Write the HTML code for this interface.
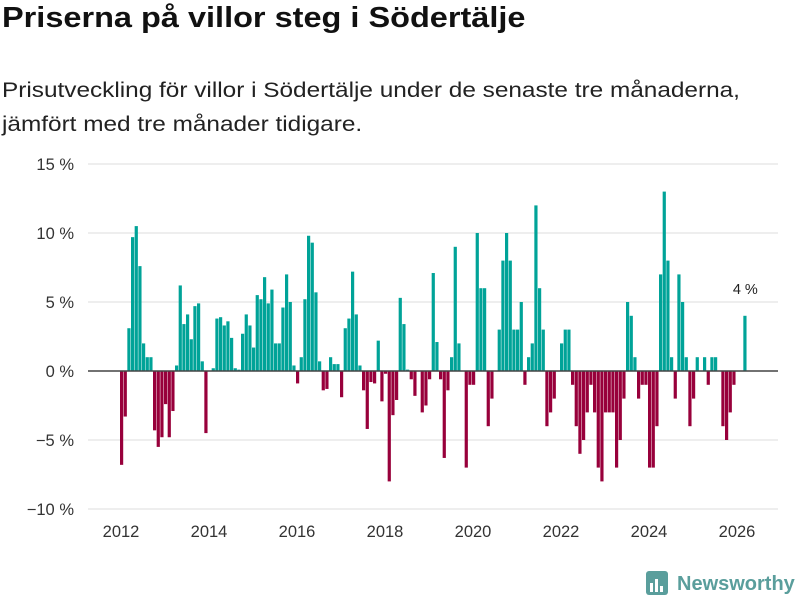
<!DOCTYPE html>
<html><head><meta charset="utf-8"><style>
body{margin:0;width:800px;height:600px;background:#fff;font-family:"Liberation Sans","DejaVu Sans",sans-serif;overflow:hidden;position:relative}
h1{position:absolute;left:2px;top:2px;margin:0;font-size:29px;font-weight:bold;color:#111;transform:scaleX(1.12);transform-origin:0 0;white-space:nowrap}
.sub{position:absolute;left:2px;top:74px;margin:0;font-size:21px;line-height:34px;color:#222;transform:scaleX(1.16);transform-origin:0 0;white-space:nowrap}
svg{position:absolute;left:0;top:0}
</style></head><body>
<h1>Priserna på villor steg i Södertälje</h1>
<p class="sub">Prisutveckling för villor i Södertälje under de senaste tre månaderna,<br>jämfört med tre månader tidigare.</p>
<svg id="chart" width="800" height="600"></svg>
<script>
const startYear = 2012;
const values = [-6.8,-3.3,3.1,9.7,10.5,7.6,2.0,1.0,1.0,-4.3,-5.5,-4.8,
-2.4,-4.8,-2.9,0.4,6.2,3.4,4.1,2.3,4.7,4.9,0.7,-4.5,
0,0.2,3.8,3.9,3.3,3.6,2.4,0.2,0.1,2.7,4.1,3.3,
1.7,5.5,5.2,6.8,4.9,5.9,2.0,2.0,4.6,7.0,5.0,0.4,
-0.9,1.0,5.2,9.8,9.3,5.7,0.7,-1.4,-1.3,1.0,0.5,0.5,
-1.9,3.1,3.8,7.2,4.1,0.4,-1.4,-4.2,-0.8,-0.9,2.2,-2.2,
-0.2,-8.0,-3.2,-2.1,5.3,3.4,0.1,-0.6,-1.8,0,-3.0,-2.5,
-0.6,7.1,2.1,-0.6,-6.3,-1.4,1.0,9.0,2.0,0,-7.0,-1.0,
-1.0,10.0,6.0,6.0,-4.0,-2.0,0,3.0,8.0,10.0,8.0,3.0,
3.0,5.0,-1.0,1.0,2.0,12.0,6.0,3.0,-4.0,-3.0,-2.0,0,
2.0,3.0,3.0,-1.0,-4.0,-6.0,-5.0,-3.0,-1.0,-3.0,-7.0,-8.0,
-3.0,-3.0,-3.0,-7.0,-5.0,-2.0,5.0,4.0,1.0,-2.0,-1.0,-1.0,
-7.0,-7.0,-4.0,7.0,13.0,8.0,1.0,-2.0,7.0,5.0,1.0,-4.0,
-2.0,1.0,0,1.0,-1.0,1.0,1.0,0,-4.0,-5.0,-3.0,-1.0,
0,0,4.0];
const yTicks = [15,10,5,0,-5,-10];
const xTicks = [2012,2014,2016,2018,2020,2022,2024,2026];
const lastLabel = "4 %";

const NS="http://www.w3.org/2000/svg";
const svg=document.getElementById('chart');
const xScale=t=>121+(t-2012)*44;
const yScale=v=>371-v*13.8;
function mk(tag,attrs,parent){const e=document.createElementNS(NS,tag);for(const k in attrs)e.setAttribute(k,attrs[k]);(parent||svg).appendChild(e);return e;}
yTicks.forEach(v=>{
  if(v!==0){const g=mk('line',{x1:88,x2:778,y1:yScale(v),y2:yScale(v),stroke:'#dedede','stroke-width':1});
  
  }
  const t=mk('text',{x:74,y:yScale(v)+6,'text-anchor':'end','font-size':16.5,fill:'#333'});
  t.textContent=(v<0?'−'+(-v):v)+' %';
  
  
});
xTicks.forEach(y=>{
  const t=mk('text',{x:xScale(y),y:537,'text-anchor':'middle','font-size':16.5,fill:'#333'});
  t.textContent=y;
  
  
});
values.forEach((v,i)=>{
  if(v===0)return;
  const t=startYear+i/12;
  const y0=yScale(0),y1=yScale(v);
  const r=mk('rect',{x:xScale(t)-1,y:Math.min(y0,y1),width:3.2,height:Math.abs(y1-y0),fill:v>0?'#00a398':'#98003b'});
  
  
});
const z=mk('line',{x1:88,x2:778,y1:yScale(0),y2:yScale(0),stroke:'#444','stroke-width':1.6});


const li=values.length-1;
const lt=mk('text',{x:xScale(startYear+li/12)+1,y:yScale(values[li])-22,'text-anchor':'middle','font-size':14.5,fill:'#222'});
lt.textContent=lastLabel;


</script>
<svg width="800" height="600" style="pointer-events:none">
<rect x="646" y="571" width="22" height="24" rx="3" fill="#5a9e9c"/>
<rect x="650" y="583" width="3" height="9" fill="#fff"/><rect x="655" y="579" width="3" height="13" fill="#fff"/><rect x="660" y="586" width="3" height="6" fill="#fff"/>
<text x="677" y="590" font-size="20" font-weight="bold" fill="#5a9e9c">Newsworthy</text>
</svg>
</body></html>
